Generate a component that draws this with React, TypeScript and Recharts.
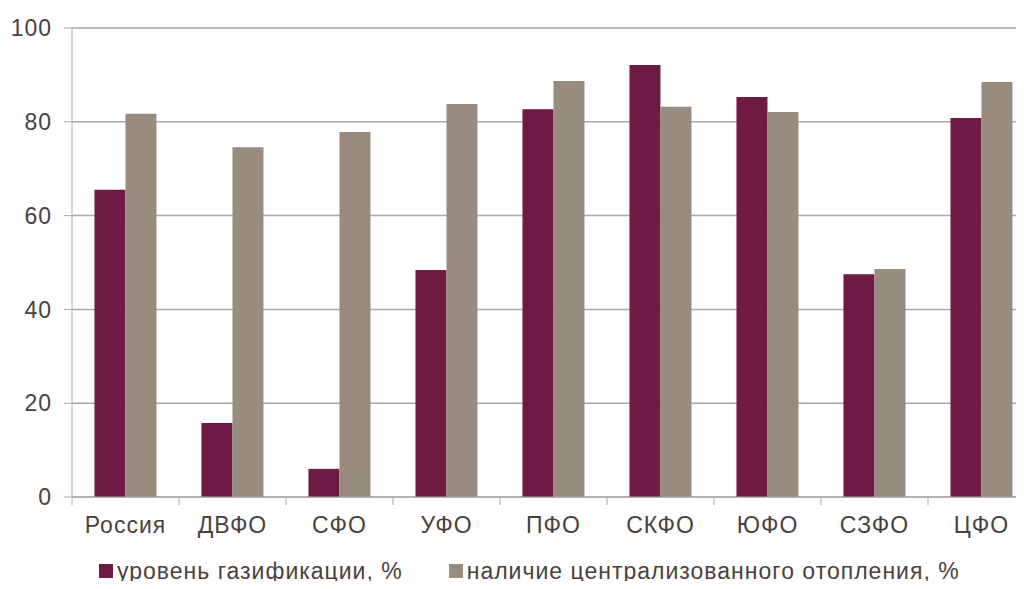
import { BarChart, Bar, XAxis, YAxis, CartesianGrid, Legend } from "recharts";

const regions = ["Россия", "ДВФО", "СФО", "УФО", "ПФО", "СКФО", "ЮФО", "СЗФО", "ЦФО"];
const gasLevel = [65.5, 15.8, 6.0, 48.4, 82.7, 92.1, 85.3, 47.5, 80.8];
const heating = [81.7, 74.6, 77.8, 83.8, 88.7, 83.2, 82.1, 48.6, 88.5];
const yTicks = [0, 20, 40, 60, 80, 100];

const GAS_NAME = "уровень газификации, %";
const HEAT_NAME = "наличие централизованного отопления, %";
const GAS_COLOR = "#6e1a45";
const HEAT_COLOR = "#9a8b7f";
const TEXT = "#4a3f3f";
const AXIS = "#a8a8a8";
const FONT = "'Liberation Sans', Arial, sans-serif";

const data = regions.map((r, i) => ({ region: r, gas: gasLevel[i], heat: heating[i] }));

const CategoryTick = (props: any) => {
  const { x, y, payload, index } = props;
  const half = payload.offset ?? 53.5;
  return (
    <g>
      <line x1={x - half} x2={x - half} y1={y - 8} y2={y} stroke={AXIS} />
      {index === regions.length - 1 && (
        <line x1={x + half} x2={x + half} y1={y - 8} y2={y} stroke={AXIS} />
      )}
      <text x={x} y={y + 28} textAnchor="middle" fill={TEXT} fontSize={23} letterSpacing={1}>
        {payload.value}
      </text>
    </g>
  );
};

const LegendContent = () => (
  <div
    style={{
      display: "flex",
      gap: 46,
      paddingLeft: 99,
      fontSize: 23,
      lineHeight: "26px",
      letterSpacing: 1,
      color: TEXT,
      fontFamily: FONT,
      whiteSpace: "nowrap",
    }}
  >
    {[
      [GAS_NAME, GAS_COLOR],
      [HEAT_NAME, HEAT_COLOR],
    ].map(([name, color]) => (
      <div key={name} style={{ display: "flex", alignItems: "center" }}>
        <span style={{ width: 14, height: 14, background: color, marginRight: 4, display: "inline-block" }} />
        <span>{name}</span>
      </div>
    ))}
  </div>
);

export default function App() {
  return (
    <div style={{ margin: -8, width: 1024, height: 589, overflow: "hidden", background: "#fff" }}>
      <BarChart
        width={1040}
        height={589}
        data={data}
        margin={{ top: 28, right: 5, bottom: 0, left: 0 }}
        barCategoryGap="21%"
        barGap={0}
        style={{ fontFamily: FONT }}
      >
        <CartesianGrid vertical={false} stroke={AXIS} strokeWidth={1.5} />
        <XAxis
          dataKey="region"
          stroke={AXIS}
          tickLine={false}
          tick={<CategoryTick />}
          height={50}
          interval={0}
        />
        <YAxis
          domain={[0, 100]}
          ticks={yTicks}
          width={72}
          stroke={AXIS}
          tickSize={8}
          tickMargin={12}
          tick={{ fill: TEXT, fontSize: 23, letterSpacing: 1 }}
        />
        <Legend
          verticalAlign="bottom"
          height={42}
          content={<LegendContent />}
          wrapperStyle={{ left: 0, width: 1040, bottom: -11 }}
        />
        <Bar dataKey="gas" name={GAS_NAME} fill={GAS_COLOR} isAnimationActive={false} />
        <Bar dataKey="heat" name={HEAT_NAME} fill={HEAT_COLOR} isAnimationActive={false} />
      </BarChart>
    </div>
  );
}
